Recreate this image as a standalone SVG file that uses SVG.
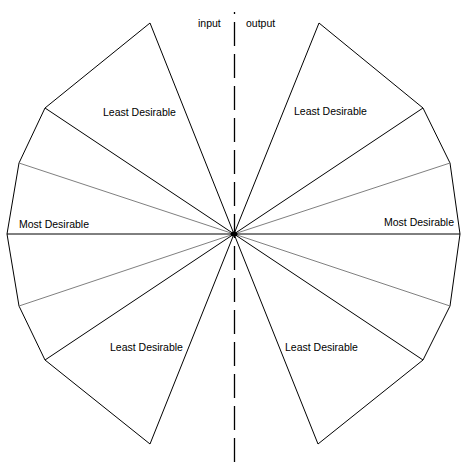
<svg xmlns="http://www.w3.org/2000/svg" width="461" height="463" viewBox="0 0 461 463">
<style>
.ln{stroke:#000;stroke-width:1;fill:none}
.gr{stroke:#808080;stroke-width:1;fill:none}
.t{font-family:"Liberation Sans",Arial,sans-serif;font-size:10.5px;fill:#000}
</style>
<rect width="461" height="463" fill="#fff"/>
<g id="axis">
<line x1="234.5" y1="12" x2="234.5" y2="463" stroke="#000" stroke-width="1.3" stroke-dasharray="24 8" stroke-dashoffset="22"/>
</g>
<g id="left-fan">
<polyline class="ln" points="234,234 150,23 45,108 19,163 7,234 19,306 45,360 150,444 234,234"/>
<line class="ln" x1="234" y1="234" x2="45" y2="108"/>
<line class="gr" x1="234" y1="234" x2="19" y2="163"/>
<line class="gr" x1="234" y1="234" x2="19" y2="306"/>
<line class="ln" x1="234" y1="234" x2="45" y2="360"/>
</g>
<g id="right-fan">
<polyline class="ln" points="234,234 319,23 423,108 450,163 460,234 450,306 423,360 318,444 234,234"/>
<line class="ln" x1="234" y1="234" x2="423" y2="108"/>
<line class="gr" x1="234" y1="234" x2="450" y2="163"/>
<line class="gr" x1="234" y1="234" x2="450" y2="306"/>
<line class="ln" x1="234" y1="234" x2="423" y2="360"/>
</g>
<g id="horizon">
<line class="ln" x1="7" y1="234" x2="460" y2="234"/>
<ellipse cx="234" cy="234" rx="3.5" ry="2.5" fill="#000"/>
</g>
<g id="labels">
<text class="t" x="198" y="27">input</text>
<text class="t" x="246" y="27">output</text>
<text class="t" x="103" y="116">Least Desirable</text>
<text class="t" x="294" y="115">Least Desirable</text>
<text class="t" x="19" y="228">Most Desirable</text>
<text class="t" x="384" y="226">Most Desirable</text>
<text class="t" x="110" y="351">Least Desirable</text>
<text class="t" x="285" y="351">Least Desirable</text>
</g>
</svg>
